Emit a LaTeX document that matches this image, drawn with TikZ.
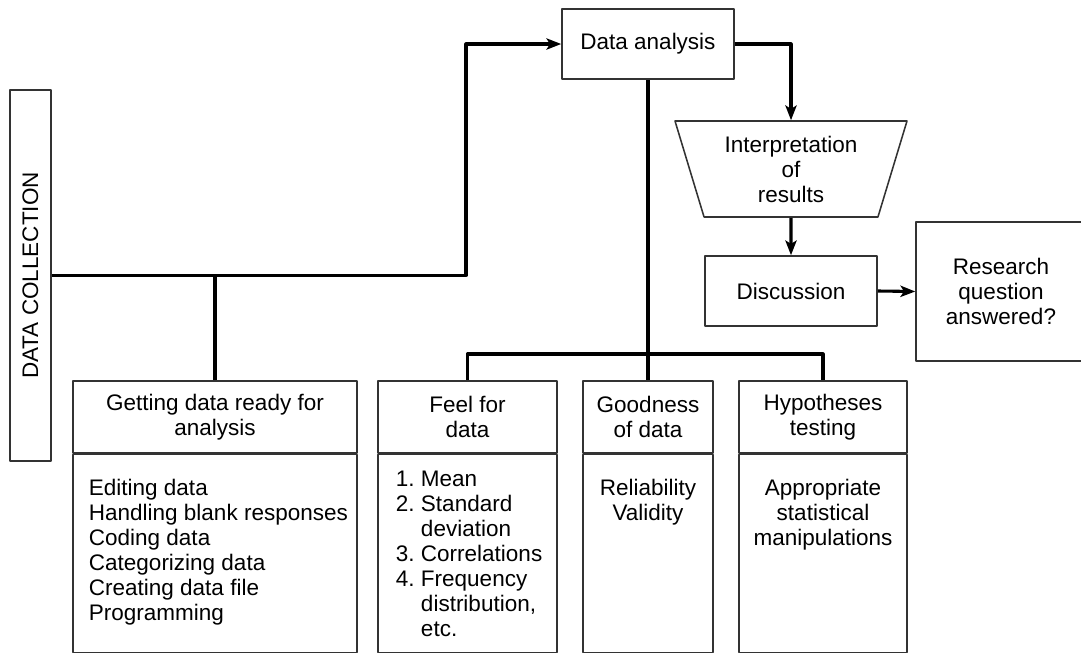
\documentclass[tikz,border=0pt]{standalone}
\usepackage{fontspec}
\setmainfont{Liberation Sans}
\usetikzlibrary{arrows.meta,shapes.geometric}
\def\px(#1){#1*0.025cm}
\begin{document}
\begin{tikzpicture}[x=0.025cm, y=-0.025cm, font=\fontsize{16}{17.8}\selectfont, line join=round, >={Stealth[length=10.5pt,width=8pt,inset=2.5pt]},
	box/.style={draw=black!80, line width=1.1pt, rectangle, inner sep=0pt, align=center},
	body/.style={box, anchor=north},
	conn/.style={line width=2.2pt}]
	\useasboundingbox (0,0) rectangle (1081,653);
	% left and top
	\node[box, minimum width=\px(41), minimum height=\px(371)] (datacoll) at (30.5,275.5) {\rotatebox{90}{DATA COLLECTION}};
	\node[box, minimum width=\px(172), minimum height=\px(70)] (analysis) at (648,44) {Data analysis};
	\node[draw=black!80, line width=1.1pt, trapezium, trapezium angle=108.4, trapezium stretches=true, minimum width=\px(232), minimum height=\px(96), inner sep=0pt, align=center] (interp) at (791,169) {Interpretation\\of\\results};
	\node[box, minimum width=\px(172), minimum height=\px(70)] (discuss) at (791,291) {Discussion};
	\node[box, minimum width=\px(170), minimum height=\px(139)] (answer) at (1001,291.5) {Research\\question\\answered?};
	% bottom row
	\node[box, minimum width=\px(284), minimum height=\px(72)] (ready) at (215,417) {Getting data ready for\\analysis};
	\node[body] (readylist) at (ready.south) {\parbox[c][4.95cm][t]{7.1cm}{\leftskip=0.4cm \rule{0pt}{1.025cm}Editing data\\Handling blank responses\\Coding data\\Categorizing data\\Creating data file\\Programming}};
	\node[box, minimum width=\px(179), minimum height=\px(72)] (feel) at (467.5,417) {Feel for\\data};
	\node[body] (feellist) at (feel.south) {\parbox[c][4.95cm][t]{4.475cm}{\leftskip=0.45cm \rule{0pt}{0.8cm}\begin{tabular}[t]{@{}r@{\ }l@{}}1.&Mean\\2.&Standard\\&deviation\\3.&Correlations\\4.&Frequency\\&distribution,\\&etc.\end{tabular}}};
	\node[box, minimum width=\px(130), minimum height=\px(72)] (goodness) at (648,417) {Goodness\\of data};
	\node[body] (goodlist) at (goodness.south) {\parbox[c][4.95cm][t]{3.25cm}{\centering\rule{0pt}{1.025cm}Reliability\\Validity}};
	\node[box, minimum width=\px(168), minimum height=\px(72)] (hypo) at (823,417) {Hypotheses\\testing};
	\node[body] (hypolist) at (hypo.south) {\parbox[c][4.95cm][t]{4.2cm}{\centering\rule{0pt}{1.025cm}Appropriate\\statistical\\manipulations}};
	% connectors
	\coordinate (turn) at (466,0);
	\coordinate (bus) at (0,354);
	\draw[conn,->] (datacoll.east) -- (datacoll.east -| turn) |- (analysis.west);
	\draw[conn] (ready.north) -- (ready.north |- datacoll.east);
	\draw[conn,->] (analysis.east) -| (interp.north);
	\draw[conn,->] (interp.south) -- (discuss.north);
	\draw[conn,->] (discuss.east) -- (answer.west);
	\draw[conn] (analysis.south) -- (goodness.north);
	\draw[conn] (feel.north) |- (bus -| hypo.north) -- (hypo.north);
\end{tikzpicture}
\end{document}
